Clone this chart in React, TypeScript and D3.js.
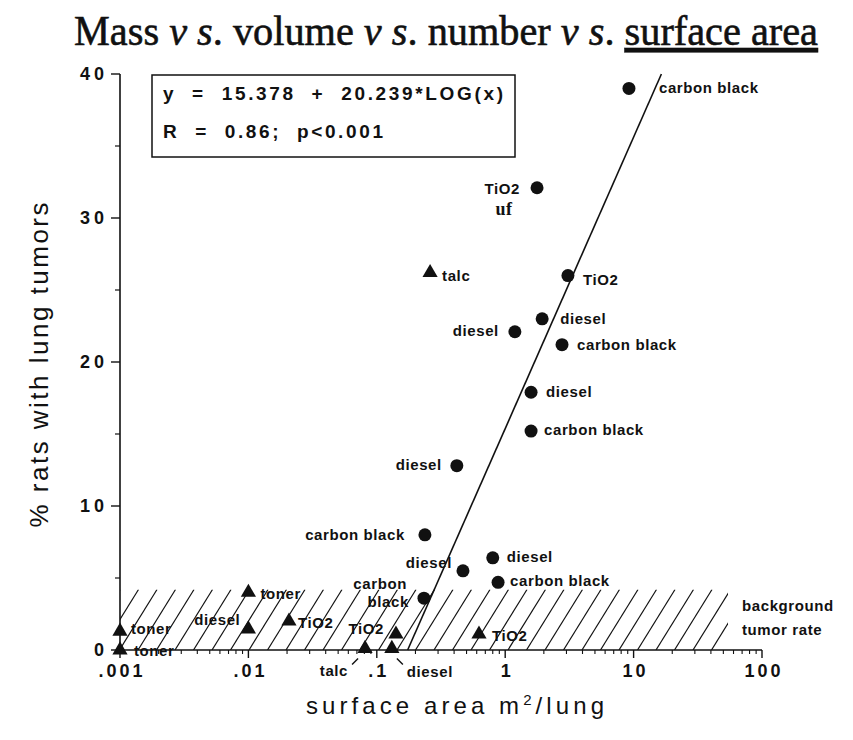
import React from 'react';
import * as d3 from 'd3';

// ---- data ----
const circleArea = [9.2, 1.77, 3.08, 1.94, 1.19, 2.77, 1.59, 1.59, 0.42, 0.237, 0.8, 0.469, 0.88, 0.233];
const circleTumor = [39.0, 32.1, 26.0, 23.0, 22.1, 21.2, 17.9, 15.2, 12.8, 8.0, 6.4, 5.5, 4.7, 3.6];
const circleLabel = [
  ['carbon black'], ['TiO2', 'uf'], ['TiO2'], ['diesel'], ['diesel'], ['carbon black'], ['diesel'],
  ['carbon black'], ['diesel'], ['carbon black'], ['diesel'], ['diesel'], ['carbon black'], ['carbon', 'black'],
];
const triArea = [0.26, 0.01, 0.0207, 0.01, 0.001, 0.001, 0.141, 0.625, 0.081, 0.131];
const triTumor = [26.2, 4.0, 2.0, 1.45, 1.3, 0, 1.1, 1.1, 0.1, 0.1];
const triLabel = [['talc'], ['toner'], ['TiO2'], ['diesel'], ['toner'], ['toner'], ['TiO2'], ['TiO2'], ['talc'], ['diesel']];

const intercept = 15.378;
const slope = 20.239;
const backgroundRate = 4.2;

const xTicks = [0.001, 0.01, 0.1, 1, 10, 100];
const xTickLabels = ['.001', '.01', '.1', '1', '10', '100'];
const yTicks = [0, 10, 20, 30, 40];
const yMinorTicks = [5, 15, 25, 35];

// label placement (offsets from the mark, in px)
const circlePlace = [
  [[30, 5, 'start']], [[-17, 6, 'end'], [-33, 27, 'middle']], [[15, 9, 'start']], [[18, 5, 'start']],
  [[-16, 4, 'end']], [[15, 5, 'start']], [[15, 5, 'start']], [[13, 4, 'start']], [[-15, 4, 'end']],
  [[-20, 5, 'end']], [[14, 4, 'start']], [[-11, -3, 'end']], [[12, 4, 'start']], [[-17, -9, 'end'], [-15, 9, 'end']],
];
const triPlace = [
  [[12, 8, 'start']], [[12, 7, 'start']], [[9, 7, 'start']], [[-8, -4, 'end']], [[11, 3, 'start']],
  [[14, 6, 'start']], [[-12, 0, 'end']], [[13, 7, 'start']], [[-17, 27, 'end']], [[15, 28, 'start']],
];

const W = 853;
const H = 740;
const sans = '"Liberation Sans", Arial, Helvetica, sans-serif';
const serif = '"Liberation Serif", "Times New Roman", serif';

export default function App() {
  const x = d3.scaleLog().domain([0.001, 100]).range([120, 762]);
  const y = d3.scaleLinear().domain([0, 40]).range([650, 74]);

  const xMinor: number[] = [];
  for (let e = -3; e < 2; e++) for (let k = 2; k <= 9; k++) xMinor.push(k * Math.pow(10, e));

  const x0 = Math.pow(10, (0 - intercept) / slope);
  const x1 = Math.pow(10, (40 - intercept) / slope);
  const reg = d3.line<number>().x((d) => x(d)).y((d) => y(intercept + slope * Math.log10(d)))([x0, x1]) || '';

  const tri = d3.symbol().type(d3.symbolTriangle).size(100)() || '';

  // hatch
  const hTop = y(backgroundRate);
  const hBot = y(0);
  const hRight = 728;
  const hatch: JSX.Element[] = [];
  const run = (hBot - hTop) * 0.62;
  for (let sx = 120 - run; sx < hRight + 5; sx += 18.5) {
    hatch.push(<line key={sx} x1={sx} y1={hBot} x2={sx + run} y2={hTop} stroke="#111" strokeWidth={1.2} />);
  }

  const lbl = { fontFamily: sans, fontSize: 15, fontWeight: 'bold' as const, letterSpacing: 0.6, fill: '#111' };

  return (
    <svg width={W} height={H} style={{ position: 'absolute', left: 0, top: 0, background: '#fff' }}>
      <rect width={W} height={H} fill="#fff" />
      <defs>
        <clipPath id="hclip">
          <rect x={120} y={hTop} width={hRight - 120} height={hBot - hTop} />
        </clipPath>
      </defs>

      {/* title */}
      <text x={74} y={45} fontFamily={serif} fontSize={42} textLength={744} lengthAdjust="spacingAndGlyphs" fill="#111" stroke="#111" strokeWidth={0.6}>
        Mass <tspan fontStyle="italic">v s</tspan>. volume <tspan fontStyle="italic">v s</tspan>. number{' '}
        <tspan fontStyle="italic">v s</tspan>. <tspan textDecoration="underline">surface area</tspan>
      </text>

      {/* hatch */}
      <g clipPath="url(#hclip)">{hatch}</g>

      {/* axes */}
      <line x1={120} y1={y(0)} x2={120} y2={y(40)} stroke="#111" strokeWidth={1.6} />
      {yTicks.map((t) => (
        <g key={t}>
          <line x1={111} x2={120} y1={y(t)} y2={y(t)} stroke="#111" strokeWidth={1.4} />
          <text x={108} y={y(t) + 6} textAnchor="end" fontFamily={sans} fontWeight="bold" fontSize={18} letterSpacing={4} fill="#111">
            {t}
          </text>
        </g>
      ))}
      {yMinorTicks.map((t) => (
        <line key={t} x1={115} x2={120} y1={y(t)} y2={y(t)} stroke="#111" strokeWidth={1.2} />
      ))}
      <line x1={120} y1={y(0)} x2={762} y2={y(0)} stroke="#111" strokeWidth={1.6} />
      {xTicks.map((t, i) => (
        <g key={t}>
          <line x1={x(t)} x2={x(t)} y1={y(0)} y2={y(0) + 8} stroke="#111" strokeWidth={1.4} />
          <text x={x(t) + 2} y={677} textAnchor="middle" fontFamily={sans} fontWeight="bold" fontSize={18} letterSpacing={3} fill="#111">
            {xTickLabels[i]}
          </text>
        </g>
      ))}
      {xMinor.map((t) => (
        <line key={t} x1={x(t)} x2={x(t)} y1={y(0)} y2={y(0) + 4} stroke="#111" strokeWidth={1.1} />
      ))}

      {/* axis titles */}
      <text x={455} y={714} textAnchor="middle" fontFamily={sans} fontSize={24} textLength={298} lengthAdjust="spacing" fill="#111">
        surface area m<tspan dy={-9} fontSize={15}>2</tspan>
        <tspan dy={9}>/lung</tspan>
      </text>
      <text
        transform={`translate(48,${365}) rotate(-90)`}
        textAnchor="middle"
        fontFamily={sans}
        fontSize={26}
        textLength={325}
        lengthAdjust="spacing"
        fill="#111"
      >
        % rats with lung tumors
      </text>

      {/* regression line */}
      <path d={reg} fill="none" stroke="#111" strokeWidth={1.6} />

      {/* equation box */}
      <rect x={152} y={75} width={363} height={82} fill="#fff" stroke="#111" strokeWidth={1.5} />
      <text x={163} y={100} fontFamily={sans} fontWeight="bold" fontSize={19} fill="#111" style={{ whiteSpace: 'pre' }} textLength={340} lengthAdjust="spacing">
        {'y  =  15.378  +  20.239*LOG(x)'}
      </text>
      <text x={163} y={138} fontFamily={sans} fontWeight="bold" fontSize={19} fill="#111" style={{ whiteSpace: 'pre' }} textLength={220} lengthAdjust="spacing">
        {'R  =  0.86;  p<0.001'}
      </text>

      {/* background label */}
      <text x={742} y={611} {...lbl}>background</text>
      <text x={742} y={635} {...lbl}>tumor rate</text>

      {/* triangles */}
      {triArea.map((a, i) => {
        const cx = x(a);
        const cy = y(triTumor[i]);
        return (
          <g key={'t' + i}>
            <path d={tri} transform={`translate(${cx},${cy})`} fill="#111" />
            {triLabel[i].map((s, j) => {
              const p = triPlace[i][j];
              return (
                <text key={j} x={cx + (p[0] as number)} y={cy + (p[1] as number)} textAnchor={p[2] as any} {...lbl}>
                  {s}
                </text>
              );
            })}
          </g>
        );
      })}
      {/* leaders for axis-level points */}
      <line x1={x(triArea[8]) - 13} y1={y(triTumor[8]) + 16} x2={x(triArea[8]) - 7} y2={y(triTumor[8]) + 10} stroke="#111" strokeWidth={1.4} />
      <line x1={x(triArea[9]) + 5} y1={y(triTumor[9]) + 10} x2={x(triArea[9]) + 11} y2={y(triTumor[9]) + 16} stroke="#111" strokeWidth={1.4} />

      {/* circles */}
      {circleArea.map((a, i) => {
        const cx = x(a);
        const cy = y(circleTumor[i]);
        return (
          <g key={'c' + i}>
            <circle cx={cx} cy={cy} r={6.5} fill="#111" />
            {circleLabel[i].map((s, j) => {
              const p = circlePlace[i][j];
              const isUf = s === 'uf';
              return (
                <text
                  key={j}
                  x={cx + (p[0] as number)}
                  y={cy + (p[1] as number)}
                  textAnchor={p[2] as any}
                  {...lbl}
                  fontFamily={isUf ? serif : sans}
                  fontSize={isUf ? 18 : 15}
                >
                  {s}
                </text>
              );
            })}
          </g>
        );
      })}
    </svg>
  );
}
